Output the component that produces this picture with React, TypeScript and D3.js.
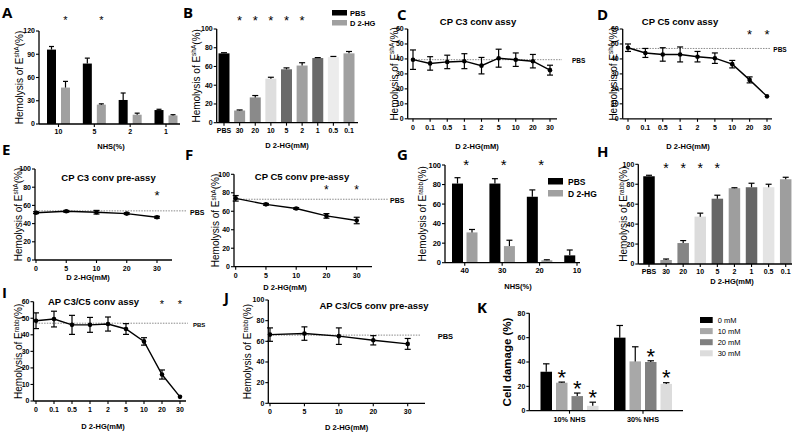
import React from 'react';
import * as d3 from 'd3';

// ---------------- data ----------------
const aCats = ['10', '5', '2', '1'];
const aPbs = [96, 78, 31, 18];
const aPbsErr = [4, 7, 9, 1];
const aDhg = [47, 25, 12, 11];
const aDhgErr = [8, 1, 2, 1];
const aStars = ['10', '5'];
const aYTicks = [0, 30, 60, 90, 120];

const bCats = ['PBS', '30', '20', '10', '5', '2', '1', '0.5', '0.1'];
const bVals = [74, 13, 27, 47, 57, 61, 69, 70, 74];
const bErr = [0.7, 0.6, 2, 1.5, 1.5, 3, 0.5, 0.7, 2];
const bStars = ['30', '20', '10', '5', '2'];
const bYTicks = [0, 20, 40, 60, 80, 100];

const doseCats = ['0', '0.1', '0.5', '1', '2', '5', '10', '20', '30'];
const cVals = [39.5, 37, 38, 38.5, 35.5, 40.5, 39.5, 38.5, 32.5];
const cErr = [6.5, 4.5, 4.5, 5, 5.5, 6, 4.5, 4.5, 3.3];
const cPbs = 39.5;
const cStars: string[] = [];
const dVals = [47.5, 44, 43, 43, 41.5, 40.5, 36.5, 26, 15];
const dErr = [2.5, 3, 4.5, 5, 3.5, 3.5, 2.5, 2, 0.3];
const dPbs = 47;
const dStars = ['20', '30'];
const convYTicks = [0, 10, 20, 30, 40, 50, 60];

const preCats = ['0', '5', '10', '20', '30'];
const eVals = [52, 53.5, 52.5, 51, 47];
const eErr = [1, 1, 2, 1, 1];
const ePbs = 54;
const eStars = ['30'];
const fVals = [74, 67.5, 63, 55, 50];
const fErr = [3, 1, 1, 2.5, 3.5];
const fPbs = 73;
const fStars = ['20', '30'];
const preYTicks = [0, 20, 40, 60, 80, 100];

const gCats = ['40', '30', '20', '10'];
const gPbs = [81, 81, 67.5, 7.5];
const gPbsErr = [6, 5, 7, 5.5];
const gDhg = [31, 17, 2.5, 0];
const gDhgErr = [3, 6, 0.5, 0];
const gStars = ['40', '30', '20'];

const hVals = [88, 4, 21, 47.5, 65.5, 76, 77, 77, 85];
const hErr = [1, 1, 2.5, 3.5, 3.5, 0.5, 4, 3, 2];
const hStars = ['30', '20', '10', '5'];

const iVals = [48.5, 49.5, 46, 46, 46.5, 43.5, 36, 16, 2.5];
const iErr = [4.75, 4.75, 5.75, 4.5, 4.25, 3.25, 2.25, 2.75, 0.3];
const iPbs = 47;
const iStars = ['20', '30'];

const jVals = [66.5, 67.5, 65, 61, 57.5];
const jErr = [6.5, 6.5, 8, 4.5, 5.25];
const jPbs = 66;
const jStars: string[] = [];

const kGroups = ['10% NHS', '30% NHS'];
const kSeries = ['0 mM', '10 mM', '20 mM', '30 mM'];
const k0mM = [32, 60];
const k0mMErr = [6.5, 10];
const k10mM = [23, 40.5];
const k10mMErr = [0.5, 12];
const k20mM = [12, 40];
const k20mMErr = [2.5, 1];
const k30mM = [4, 22];
const k30mMErr = [3, 1];
const kStarGroups = [[], ['10% NHS'], ['10% NHS', '30% NHS'], ['10% NHS', '30% NHS']];
const kYTicks = [0, 20, 40, 60, 80];

// ---------------- styles ----------------
const FONT = "'Liberation Sans', Arial, Helvetica, sans-serif";
const LETTER_FONT = "'Open Sans', 'Liberation Sans', Arial, sans-serif";
const bColors = ['#000000', '#9a9a9a', '#8a8a8a', '#dedede', '#6a6a6a', '#a0a0a0', '#6a6a6a', '#ececec', '#a0a0a0'];
const hColors = ['#000000', '#9a9a9a', '#858585', '#dcdcdc', '#666666', '#9e9e9e', '#666666', '#e4e4e4', '#9e9e9e'];
const abColors = ['#000000', '#a0a0a0'];
const kColors = ['#000000', '#a8a8a8', '#808080', '#dcdcdc'];

function Star({ x, cy, fs }: { x: number; cy: number; fs: number }) {
  return (
    <text x={x} y={cy + fs * 0.58} textAnchor="middle" fontSize={fs}>
      *
    </text>
  );
}

function Letter({ x, y, t }: { x: number; y: number; t: string }) {
  return (
    <text x={x} y={y} fontSize={15} fontWeight="bold" fontFamily={LETTER_FONT}>
      {t}
    </text>
  );
}

function YLabel({ cx, cy, sup, fs = 10 }: { cx: number; cy: number; sup: string; fs?: number }) {
  return (
    <text transform={`translate(${cx},${cy}) rotate(-90)`} textAnchor="middle" dy="0.35em" fontSize={fs}>
      {'Hemolysis  of  E'}
      <tspan dy={-3.5} fontSize={fs * 0.65}>
        {sup}
      </tspan>
      <tspan dy={3.5}>(%)</tspan>
    </text>
  );
}

function Axes({ ax, axEnd, x, cats, y, yTicks, tickFs = 7, tickOff = 10 }: any) {
  const top = y(yTicks[yTicks.length - 1]);
  const y0 = y(0);
  return (
    <g>
      <line x1={ax} x2={ax} y1={y0} y2={top} stroke="#000" strokeWidth={1.3} />
      {yTicks.map((t: number) => (
        <g key={'y' + t}>
          <line x1={ax - 3} x2={ax} y1={y(t)} y2={y(t)} stroke="#000" strokeWidth={1.1} />
          <text x={ax - 4} y={y(t)} dy="0.35em" textAnchor="end" fontSize={tickFs} fontWeight="bold">
            {t}
          </text>
        </g>
      ))}
      <line x1={ax} x2={axEnd} y1={y0} y2={y0} stroke="#000" strokeWidth={1.3} />
      {cats.map((c: string) => (
        <g key={'x' + c}>
          <line x1={x(c)} x2={x(c)} y1={y0} y2={y0 + 3} stroke="#000" strokeWidth={1.1} />
          <text x={x(c)} y={y0 + tickOff} textAnchor="middle" fontSize={tickFs} fontWeight="bold">
            {c}
          </text>
        </g>
      ))}
    </g>
  );
}

function ErrUp({ x, y0, y1, w }: { x: number; y0: number; y1: number; w: number }) {
  return (
    <g stroke="#000" strokeWidth={1.2}>
      <line x1={x} x2={x} y1={y0} y2={y1} />
      <line x1={x - w / 2} x2={x + w / 2} y1={y1} y2={y1} />
    </g>
  );
}

function ErrBoth({ x, lo, hi, w }: { x: number; lo: number; hi: number; w: number }) {
  return (
    <g stroke="#000" strokeWidth={1.2}>
      <line x1={x} x2={x} y1={lo} y2={hi} />
      <line x1={x - w / 2} x2={x + w / 2} y1={hi} y2={hi} />
      <line x1={x - w / 2} x2={x + w / 2} y1={lo} y2={lo} />
    </g>
  );
}

function LinePanel({ cats, vals, errs, pbs, stars, yTicks, sup, L }: any) {
  const x = d3.scalePoint<string>().domain(cats).range([L.p0, L.p1]);
  const y = d3.scaleLinear().domain([0, yTicks[yTicks.length - 1]]).range([L.yb, L.yt]);
  const line = d3
    .line<number>()
    .x((_, i) => x(cats[i])!)
    .y((d) => y(d));
  return (
    <g>
      <Axes ax={L.ax} axEnd={L.axEnd} x={x} cats={cats} y={y} yTicks={yTicks} tickFs={L.tickFs ?? 7} tickOff={L.tickOff ?? 11} />
      <line x1={L.pbs0} x2={L.pbs1} y1={y(pbs)} y2={y(pbs)} stroke="#8a8a8a" strokeWidth={1} strokeDasharray="1.5,1.2" />
      <text x={L.pbsLx} y={y(pbs) + 3.8} fontSize={L.pbsFs} fontWeight="bold">
        PBS
      </text>
      <path d={line(vals) || ''} fill="none" stroke="#000" strokeWidth={1.4} />
      {vals.map((v: number, i: number) =>
        errs[i] > 0.5 ? <ErrBoth key={'e' + i} x={x(cats[i])!} lo={y(v - errs[i])} hi={y(v + errs[i])} w={6} /> : null
      )}
      {vals.map((v: number, i: number) => (
        <circle key={'c' + i} cx={x(cats[i])!} cy={y(v)} r={2.3} fill="#000" />
      ))}
      {stars.map((s: string) => (
        <Star key={'s' + s} x={x(s)!} cy={L.starY} fs={L.starFs} />
      ))}
      <text x={L.titleX} y={L.titleY} textAnchor="middle" fontSize={9.5} fontWeight="bold">
        {L.title}
      </text>
      <text x={L.xlabX} y={L.xlabY} textAnchor="middle" fontSize={7.5} fontWeight="bold">
        D 2-HG(mM)
      </text>
      <YLabel cx={L.ylabX} cy={(L.yb + L.yt) / 2} sup={sup} />
      <Letter x={L.lx} y={L.ly} t={L.letter} />
    </g>
  );
}

function SimpleBarPanel({ cats, vals, errs, colors, stars, yTicks, sup, L }: any) {
  const x = d3.scalePoint<string>().domain(cats).range([L.p0, L.p1]);
  const y = d3.scaleLinear().domain([0, yTicks[yTicks.length - 1]]).range([L.yb, L.yt]);
  return (
    <g>
      {vals.map((v: number, i: number) => (
        <rect key={'b' + i} x={x(cats[i])! - L.bw / 2} y={y(v)} width={L.bw} height={y(0) - y(v)} fill={colors[i]} />
      ))}
      {vals.map((v: number, i: number) => (
        <ErrUp key={'e' + i} x={x(cats[i])!} y0={y(v)} y1={y(v + errs[i])} w={6} />
      ))}
      <Axes ax={L.ax} axEnd={L.axEnd} x={x} cats={cats} y={y} yTicks={yTicks} tickFs={7} tickOff={L.tickOff ?? 10} />
      {stars.map((s: string) => (
        <Star key={'s' + s} x={x(s)!} cy={L.starY} fs={L.starFs} />
      ))}
      <text x={L.xlabX} y={L.xlabY} textAnchor="middle" fontSize={7.5} fontWeight="bold">
        D 2-HG(mM)
      </text>
      <YLabel cx={L.ylabX} cy={(L.yb + L.yt) / 2} sup={sup} />
      <Letter x={L.lx} y={L.ly} t={L.letter} />
    </g>
  );
}

function GroupBarPanel({ cats, series, stars, yTicks, sup, L }: any) {
  const x = d3.scalePoint<string>().domain(cats).range([L.p0, L.p1]);
  const y = d3.scaleLinear().domain([0, yTicks[yTicks.length - 1]]).range([L.yb, L.yt]);
  return (
    <g>
      {series.map((s: any, si: number) =>
        s.vals.map((v: number, i: number) => {
          const cx = x(cats[i])! + L.offsets[si];
          return (
            <g key={si + '-' + i}>
              <rect x={cx - L.bw / 2} y={y(v)} width={L.bw} height={y(0) - y(v)} fill={s.color} />
              {s.errs[i] > 0 ? <ErrUp x={cx} y0={y(v)} y1={y(v + s.errs[i])} w={L.cap} /> : null}
            </g>
          );
        })
      )}
      <Axes ax={L.ax} axEnd={L.axEnd} x={x} cats={cats} y={y} yTicks={yTicks} tickFs={L.tickFs ?? 7} tickOff={10} />
      {stars.map((s: string) => (
        <Star key={'s' + s} x={x(s)! + L.starOff} cy={L.starY} fs={L.starFs} />
      ))}
      <text x={L.xlabX} y={L.xlabY} textAnchor="middle" fontSize={7.5} fontWeight="bold">
        NHS(%)
      </text>
      <YLabel cx={L.ylabX} cy={(L.yb + L.yt) / 2} sup={sup} />
      <Letter x={L.lx} y={L.ly} t={L.letter} />
    </g>
  );
}

function PanelK() {
  const x = d3.scalePoint<string>().domain(kGroups).range([569.5, 643]);
  const y = d3.scaleLinear().domain([0, 80]).range([410.7, 313.3]);
  const offsets = [-23.25, -7.75, 7.75, 23.25];
  const bw = 11.5;
  const seriesVals = [k0mM, k10mM, k20mM, k30mM];
  const seriesErr = [k0mMErr, k10mMErr, k20mMErr, k30mMErr];
  return (
    <g>
      {seriesVals.map((vals, si) =>
        vals.map((v, gi) => {
          const cx = x(kGroups[gi])! + offsets[si];
          return (
            <g key={si + '-' + gi}>
              <rect x={cx - bw / 2} y={y(v)} width={bw} height={y(0) - y(v)} fill={kColors[si]} />
              <ErrUp x={cx} y0={y(v)} y1={y(v + seriesErr[si][gi])} w={6.5} />
            </g>
          );
        })
      )}
      {kStarGroups.map((gs, si) =>
        gs.map((g) => {
          const gi = kGroups.indexOf(g);
          const top = y(seriesVals[si][gi] + seriesErr[si][gi]);
          return <Star key={'ks' + si + g} x={x(g)! + offsets[si]} cy={top - 10} fs={22} />;
        })
      )}
      <line x1={529.3} x2={529.3} y1={y(0)} y2={y(80)} stroke="#000" strokeWidth={1.3} />
      {kYTicks.map((t) => (
        <g key={'ky' + t}>
          <line x1={526.3} x2={529.3} y1={y(t)} y2={y(t)} stroke="#000" strokeWidth={1.1} />
          <text x={525.3} y={y(t)} dy="0.35em" textAnchor="end" fontSize={7} fontWeight="bold">
            {t}
          </text>
        </g>
      ))}
      <line x1={529.3} x2={683} y1={y(0)} y2={y(0)} stroke="#000" strokeWidth={1.3} />
      {kGroups.map((g) => (
        <g key={'kx' + g}>
          <line x1={x(g)!} x2={x(g)!} y1={y(0)} y2={y(0) + 3} stroke="#000" strokeWidth={1.1} />
          <text x={x(g)!} y={y(0) + 11} textAnchor="middle" fontSize={7.3} fontWeight="bold">
            {g}
          </text>
        </g>
      ))}
      <text transform={`translate(506.5,${(y(0) + y(80)) / 2}) rotate(-90)`} textAnchor="middle" dy="0.35em" fontSize={11.5} fontWeight="bold">
        Cell damage (%)
      </text>
      {kSeries.map((s, si) => (
        <g key={'kl' + s}>
          <rect x={700} y={317 + si * 11.1} width={12.7} height={6} fill={kColors[si]} />
          <text x={717.7} y={322.8 + si * 11.1} fontSize={7.5}>
            {s}
          </text>
        </g>
      ))}
      <Letter x={477} y={313} t="K" />
    </g>
  );
}

function Legend2({ x, y0, dy, w, h, fs, tx }: any) {
  const names = ['PBS', 'D 2-HG'];
  return (
    <g>
      {names.map((n, i) => (
        <g key={n}>
          <rect x={x} y={y0 + i * dy} width={w} height={h} fill={abColors[i]} />
          <text x={tx} y={y0 + i * dy + h} fontSize={fs} fontWeight="bold">
            {n}
          </text>
        </g>
      ))}
    </g>
  );
}

export default function App() {
  return (
    <svg
      width={800}
      height={438}
      style={{ position: 'absolute', left: 0, top: 0, background: '#fff' }}
      fontFamily={FONT}
    >
      <rect width={800} height={438} fill="#fff" />
      {/* A */}
      <GroupBarPanel
        cats={aCats}
        series={[
          { vals: aPbs, errs: aPbsErr, color: abColors[0] },
          { vals: aDhg, errs: aDhgErr, color: abColors[1] },
        ]}
        stars={aStars}
        yTicks={aYTicks}
        sup="shA"
        L={{ ax: 39, axEnd: 180, p0: 58.5, p1: 166, yb: 124, yt: 31, bw: 9, offsets: [-7, 7], cap: 5, starOff: 7, starY: 18, starFs: 11, xlabX: 111, xlabY: 149, ylabX: 19, lx: 2, ly: 18, letter: 'A' }}
      />
      {/* B */}
      <SimpleBarPanel
        cats={bCats}
        vals={bVals}
        errs={bErr}
        colors={bColors}
        stars={bStars}
        yTicks={bYTicks}
        sup="shA"
        L={{ ax: 216.7, axEnd: 358, p0: 224, p1: 349, yb: 122.7, yt: 29, bw: 11, starY: 17, starFs: 13, xlabX: 287, xlabY: 148, ylabX: 196, lx: 183, ly: 18, letter: 'B' }}
      />
      <Legend2 x={332} y0={10} dy={10} w={15} h={5.5} fs={7.5} tx={350} />
      {/* C */}
      <LinePanel
        cats={doseCats}
        vals={cVals}
        errs={cErr}
        pbs={cPbs}
        stars={cStars}
        yTicks={convYTicks}
        sup="shA"
        L={{ ax: 407.7, axEnd: 557, p0: 413, p1: 550, yb: 118.8, yt: 29, pbs0: 413, pbs1: 562, pbsLx: 572, pbsFs: 6.5, starY: 31.7, starFs: 13, title: 'CP C3 conv assy', titleX: 478, titleY: 25, xlabX: 477, xlabY: 148.5, ylabX: 394, lx: 397, ly: 20, letter: 'C' }}
      />
      {/* D */}
      <LinePanel
        cats={doseCats}
        vals={dVals}
        errs={dErr}
        pbs={dPbs}
        stars={dStars}
        yTicks={convYTicks}
        sup="shA"
        L={{ ax: 622.7, axEnd: 772, p0: 628, p1: 767, yb: 118.8, yt: 29, pbs0: 628, pbs1: 770, pbsLx: 773.3, pbsFs: 6.5, starY: 31.7, starFs: 13, title: 'CP C5 conv assy', titleX: 680, titleY: 25, xlabX: 688, xlabY: 148.5, ylabX: 613, lx: 597, ly: 20, letter: 'D' }}
      />
      {/* E */}
      <LinePanel
        cats={preCats}
        vals={eVals}
        errs={eErr}
        pbs={ePbs}
        stars={eStars}
        yTicks={preYTicks}
        sup="shA"
        L={{ ax: 35, axEnd: 172, p0: 36, p1: 157, yb: 260, yt: 169, pbs0: 36, pbs1: 186, pbsLx: 190, pbsFs: 7, starY: 192, starFs: 13, title: 'CP C3 conv pre-assy', titleX: 108.5, titleY: 180.5, xlabX: 88, xlabY: 279.5, ylabX: 18, lx: 2, ly: 155, letter: 'E' }}
      />
      {/* F */}
      <LinePanel
        cats={preCats}
        vals={fVals}
        errs={fErr}
        pbs={fPbs}
        stars={fStars}
        yTicks={preYTicks}
        sup="shA"
        L={{ ax: 234, axEnd: 372, p0: 235.7, p1: 356.7, yb: 266.7, yt: 174.3, pbs0: 235, pbs1: 388, pbsLx: 390, pbsFs: 7, starY: 187, starFs: 12, title: 'CP C5 conv pre-assy', titleX: 302, titleY: 180, xlabX: 285, xlabY: 289.5, ylabX: 215.5, lx: 185, ly: 160, letter: 'F' }}
      />
      {/* G */}
      <GroupBarPanel
        cats={gCats}
        series={[
          { vals: gPbs, errs: gPbsErr, color: abColors[0] },
          { vals: gDhg, errs: gDhgErr, color: abColors[1] },
        ]}
        stars={gStars}
        yTicks={preYTicks}
        sup="rabb"
        L={{ ax: 445, axEnd: 580, p0: 464.75, p1: 577, yb: 262.7, yt: 165, bw: 11, offsets: [-7.25, 7.25], cap: 6, starOff: 1.5, starY: 161.7, starFs: 15, tickFs: 7.5, xlabX: 518, xlabY: 288.5, ylabX: 422.5, lx: 397, ly: 160, letter: 'G' }}
      />
      <Legend2 x={548} y0={178} dy={12} w={15} h={6.5} fs={8.5} tx={568} />
      {/* H */}
      <SimpleBarPanel
        cats={bCats}
        vals={hVals}
        errs={hErr}
        colors={hColors}
        stars={hStars}
        yTicks={preYTicks}
        sup="rabb"
        L={{ ax: 638.3, axEnd: 792, p0: 649, p1: 785.7, yb: 264, yt: 164.3, bw: 11.5, starY: 165, starFs: 14, xlabX: 732, xlabY: 283.5, ylabX: 623.5, lx: 597, ly: 157, letter: 'H' }}
      />
      {/* I */}
      <LinePanel
        cats={doseCats}
        vals={iVals}
        errs={iErr}
        pbs={iPbs}
        stars={iStars}
        yTicks={convYTicks}
        sup="rabb"
        L={{ ax: 33.5, axEnd: 186, p0: 36, p1: 180, yb: 401, yt: 301.7, pbs0: 36, pbs1: 188, pbsLx: 193, pbsFs: 6, starY: 301.7, starFs: 11, title: 'AP C3/C5 conv assy', titleX: 93.5, titleY: 305, xlabX: 103, xlabY: 429, ylabX: 18.5, lx: 2, ly: 298, letter: 'I' }}
      />
      {/* J */}
      <LinePanel
        cats={preCats}
        vals={jVals}
        errs={jErr}
        pbs={jPbs}
        stars={jStars}
        yTicks={preYTicks}
        sup="rabb"
        L={{ ax: 268.3, axEnd: 425, p0: 270, p1: 407.7, yb: 403.3, yt: 300, pbs0: 270, pbs1: 420, pbsLx: 437.7, pbsFs: 7.5, starY: 300, starFs: 13, title: 'AP C3/C5 conv pre-assy', titleX: 374, titleY: 309, xlabX: 346.7, xlabY: 429.5, ylabX: 247.5, lx: 224, ly: 303, letter: 'J' }}
      />
      {/* K */}
      <PanelK />
    </svg>
  );
}
